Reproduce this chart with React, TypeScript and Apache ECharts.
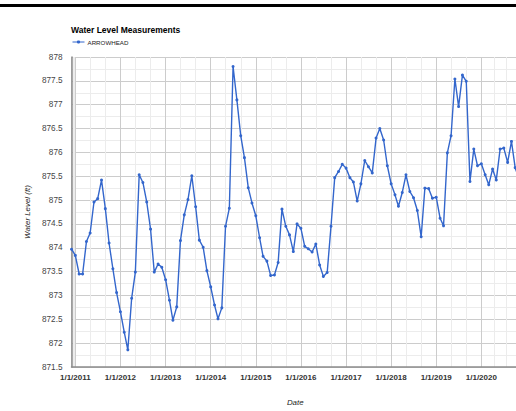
import React, { useEffect, useRef } from 'react';
import * as echarts from 'echarts';

const titleText = 'Water Level Measurements';
const seriesName = 'ARROWHEAD';
const xAxisTitle = 'Date';
const yAxisTitle = 'Water Level (ft)';

const yMin = 871.5;
const yMax = 878;
const yStep = 0.5;
const xMin = '2010-12-01';
const xMax = '2020-11-01';

const dates = [
  '2010-12-01',
  '2011-01-01', '2011-02-01', '2011-03-01', '2011-04-01', '2011-05-01', '2011-06-01', '2011-07-01', '2011-08-01', '2011-09-01', '2011-10-01', '2011-11-01', '2011-12-01',
  '2012-01-01', '2012-02-01', '2012-03-01', '2012-04-01', '2012-05-01', '2012-06-01', '2012-07-01', '2012-08-01', '2012-09-01', '2012-10-01', '2012-11-01', '2012-12-01',
  '2013-01-01', '2013-02-01', '2013-03-01', '2013-04-01', '2013-05-01', '2013-06-01', '2013-07-01', '2013-08-01', '2013-09-01', '2013-10-01', '2013-11-01', '2013-12-01',
  '2014-01-01', '2014-02-01', '2014-03-01', '2014-04-01', '2014-05-01', '2014-06-01', '2014-07-01', '2014-08-01', '2014-09-01', '2014-10-01', '2014-11-01', '2014-12-01',
  '2015-01-01', '2015-02-01', '2015-03-01', '2015-04-01', '2015-05-01', '2015-06-01', '2015-07-01', '2015-08-01', '2015-09-01', '2015-10-01', '2015-11-01', '2015-12-01',
  '2016-01-01', '2016-02-01', '2016-03-01', '2016-04-01', '2016-05-01', '2016-06-01', '2016-07-01', '2016-08-01', '2016-09-01', '2016-10-01', '2016-11-01', '2016-12-01',
  '2017-01-01', '2017-02-01', '2017-03-01', '2017-04-01', '2017-05-01', '2017-06-01', '2017-07-01', '2017-08-01', '2017-09-01', '2017-10-01', '2017-11-01', '2017-12-01',
  '2018-01-01', '2018-02-01', '2018-03-01', '2018-04-01', '2018-05-01', '2018-06-01', '2018-07-01', '2018-08-01', '2018-09-01', '2018-10-01', '2018-11-01', '2018-12-01',
  '2019-01-01', '2019-02-01', '2019-03-01', '2019-04-01', '2019-05-01', '2019-06-01', '2019-07-01', '2019-08-01', '2019-09-01', '2019-10-01', '2019-11-01', '2019-12-01',
  '2020-01-01', '2020-02-01', '2020-03-01', '2020-04-01', '2020-05-01', '2020-06-01', '2020-07-01', '2020-08-01', '2020-09-01', '2020-10-01', '2020-11-01',
];

const waterLevel = [
  873.97,
  873.84, 873.45, 873.45, 874.13, 874.31, 874.96, 875.03, 875.42, 874.82, 874.10, 873.56, 873.06,
  872.66, 872.23, 871.86, 872.94, 873.49, 875.53, 875.37, 874.96, 874.39, 873.49, 873.66, 873.59,
  873.33, 872.90, 872.48, 872.76, 874.15, 874.69, 875.01, 875.51, 874.86, 874.16, 874.01, 873.52,
  873.18, 872.80, 872.51, 872.74, 874.45, 874.83, 877.80, 877.10, 876.35, 875.89, 875.26, 874.94,
  874.67, 874.21, 873.82, 873.72, 873.42, 873.43, 873.69, 874.81, 874.45, 874.27, 873.92, 874.50,
  874.41, 874.03, 873.98, 873.91, 874.08, 873.64, 873.40, 873.48, 874.45, 875.47, 875.60, 875.75,
  875.67, 875.47, 875.38, 874.98, 875.34, 875.83, 875.70, 875.57, 876.30, 876.50, 876.26, 875.72,
  875.34, 875.11, 874.87, 875.16, 875.53, 875.18, 875.05, 874.78, 874.23, 875.25, 875.24, 875.04,
  875.06, 874.62, 874.46, 875.99, 876.35, 877.54, 876.96, 877.62, 877.49, 875.39, 876.07, 875.72,
  875.76, 875.53, 875.32, 875.65, 875.42, 876.07, 876.09, 875.79, 876.23, 875.68, 875.45,
];

const FONT = '"Liberation Sans", Arial, sans-serif';

export default function App() {
  const ref = useRef<HTMLDivElement>(null);
  useEffect(() => {
    const chart = echarts.init(ref.current as HTMLDivElement, null, { renderer: 'svg' });
    const fmt = (v: number) => {
      const d = new Date(v);
      return `${d.getMonth() + 1}/${d.getDate()}/${d.getFullYear()}`;
    };
    chart.setOption({
      animation: false,
      backgroundColor: '#fff',
      textStyle: { fontFamily: FONT },
      title: {
        text: titleText,
        left: 71,
        top: 25,
        textStyle: { fontFamily: FONT, fontSize: 8.5, fontWeight: 'bold', color: '#000' },
        padding: 0,
      },
      legend: {
        left: 72,
        top: 39,
        padding: 0,
        itemWidth: 12,
        itemHeight: 4,
        itemGap: 4,
        textStyle: { fontFamily: FONT, fontSize: 6.2, color: '#222', padding: [0, 0, 0, -2] },
        data: [{ name: seriesName, itemStyle: { color: '#3366cc' }, lineStyle: { width: 1 } }],
      },
      grid: {
        left: 71.5,
        top: 57,
        bottom: 44,
        right: -3,
        containLabel: false,
        outerBoundsMode: 'none',
      },
      xAxis: {
        type: 'time',
        min: xMin,
        max: xMax,
        splitNumber: 10,
        name: xAxisTitle,
        nameLocation: 'middle',
        nameGap: 31,
        nameTextStyle: { fontFamily: FONT, fontSize: 7.9, fontStyle: 'italic', color: '#222' },
        axisLine: { show: true, lineStyle: { color: '#8c8c8c', width: 1.5 } },
        axisTick: { show: false },
        axisLabel: {
          formatter: fmt,
          fontFamily: FONT,
          fontSize: 8,
          fontWeight: 'bold',
          color: '#333',
          margin: 6,
          showMinLabel: false,
          showMaxLabel: false,
        },
        splitLine: { show: true, lineStyle: { color: '#cccccc', width: 1 } },
        minorTick: { show: false, splitNumber: 3 },
        minorSplitLine: { show: true, lineStyle: { color: '#ececec', width: 1 } },
      },
      yAxis: {
        type: 'value',
        min: yMin,
        max: yMax,
        interval: yStep,
        name: yAxisTitle,
        nameLocation: 'middle',
        nameGap: 35,
        nameTextStyle: { fontFamily: FONT, fontSize: 7.9, fontStyle: 'italic', color: '#222' },
        axisLine: { show: true, lineStyle: { color: '#8c8c8c', width: 1.5 } },
        axisTick: { show: false },
        axisLabel: { fontFamily: FONT, fontSize: 8.2, color: '#444', margin: 9 },
        splitLine: { show: true, lineStyle: { color: '#cccccc', width: 1 } },
        minorTick: { show: false, splitNumber: 2 },
        minorSplitLine: { show: true, lineStyle: { color: '#ececec', width: 1 } },
      },
      graphic: [
        { type: 'rect', shape: { x: 0, y: 4, width: 516, height: 3 }, style: { fill: '#000' }, silent: true },
      ],
      series: [
        {
          name: seriesName,
          type: 'line',
          data: dates.map((d, i) => [d, waterLevel[i]]),
          symbol: 'circle',
          symbolSize: 3,
          showSymbol: true,
          lineStyle: { color: '#3366cc', width: 1.4 },
          itemStyle: { color: '#3366cc' },
          clip: true,
        },
      ],
    });
    return () => chart.dispose();
  }, []);
  return (
    <div style={{ position: 'fixed', left: 0, top: 0, width: 516, height: 411, overflow: 'hidden', background: '#fff' }}>
      <div ref={ref} style={{ width: 516, height: 411 }} />
    </div>
  );
}
